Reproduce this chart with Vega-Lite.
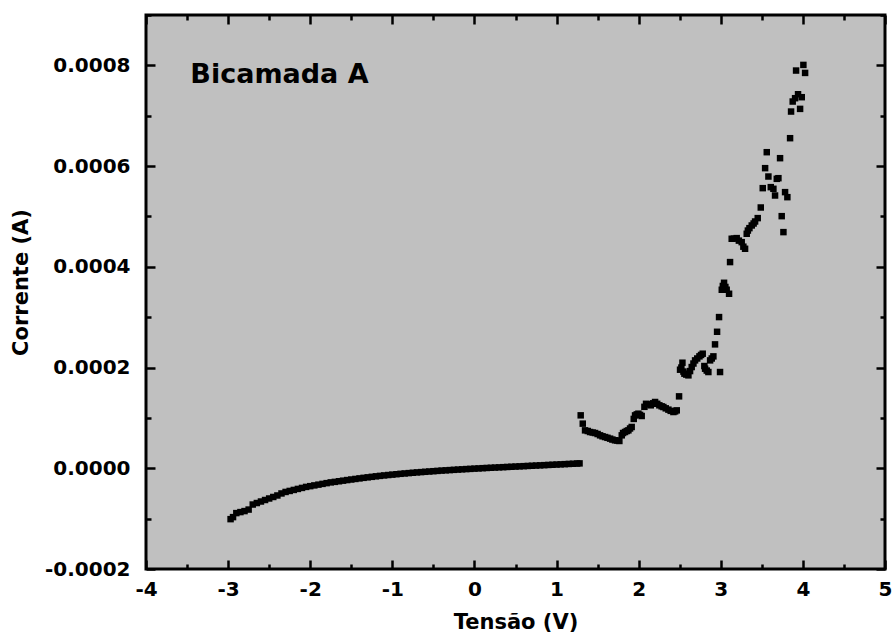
{
  "$schema": "https://vega.github.io/schema/vega-lite/v6.json",
  "width": 739,
  "height": 554,
  "autosize": "none",
  "padding": {"left": 146, "top": 15, "right": 11, "bottom": 68},
  "background": "white",
  "config": {
    "view": {"fill": "#c0c0c0", "stroke": "black", "strokeWidth": 3},
    "font": "DejaVu Sans"
  },
  "datasets": {
    "pts": [
      {"V": -2.97, "I": -0.000101}, {"V": -2.94, "I": -0.000097}, {"V": -2.90, "I": -0.000089}, {"V": -2.85, "I": -0.000087},
      {"V": -2.80, "I": -0.000085}, {"V": -2.75, "I": -0.000082}, {"V": -2.70, "I": -0.000072}, {"V": -2.65, "I": -0.000069},
      {"V": -2.60, "I": -0.000066}, {"V": -2.55, "I": -0.000063}, {"V": -2.50, "I": -0.000060}, {"V": -2.45, "I": -0.000057},
      {"V": -2.40, "I": -0.000054}, {"V": -2.35, "I": -0.000050}, {"V": -2.30, "I": -0.000047}, {"V": -2.25, "I": -0.000045},
      {"V": -2.20, "I": -0.000043}, {"V": -2.15, "I": -0.000041}, {"V": -2.10, "I": -0.000039}, {"V": -2.05, "I": -0.000037},
      {"V": -2.00, "I": -0.0000355}, {"V": -1.95, "I": -0.000034}, {"V": -1.90, "I": -0.0000325}, {"V": -1.85, "I": -0.000031},
      {"V": -1.80, "I": -0.0000295}, {"V": -1.75, "I": -0.000028}, {"V": -1.70, "I": -0.000027}, {"V": -1.65, "I": -0.0000258},
      {"V": -1.60, "I": -0.0000246}, {"V": -1.55, "I": -0.0000234}, {"V": -1.50, "I": -0.0000223}, {"V": -1.45, "I": -0.0000212},
      {"V": -1.40, "I": -0.0000201}, {"V": -1.35, "I": -0.000019}, {"V": -1.30, "I": -0.000018}, {"V": -1.25, "I": -0.000017},
      {"V": -1.20, "I": -0.000016}, {"V": -1.15, "I": -0.0000151}, {"V": -1.10, "I": -0.0000142}, {"V": -1.05, "I": -0.0000134},
      {"V": -1.00, "I": -0.0000126}, {"V": -0.95, "I": -0.0000118}, {"V": -0.90, "I": -0.000011}, {"V": -0.85, "I": -0.0000103},
      {"V": -0.80, "I": -0.0000096}, {"V": -0.75, "I": -0.0000089}, {"V": -0.70, "I": -0.0000082}, {"V": -0.65, "I": -0.0000076},
      {"V": -0.60, "I": -0.000007}, {"V": -0.55, "I": -0.0000064}, {"V": -0.50, "I": -0.0000058}, {"V": -0.45, "I": -0.0000052},
      {"V": -0.40, "I": -0.0000046}, {"V": -0.35, "I": -0.0000041}, {"V": -0.30, "I": -0.0000036}, {"V": -0.25, "I": -0.0000031},
      {"V": -0.20, "I": -0.0000026}, {"V": -0.15, "I": -0.0000021}, {"V": -0.10, "I": -0.0000016}, {"V": -0.05, "I": -0.0000012},
      {"V": 0.00, "I": -0.0000007}, {"V": 0.05, "I": -0.0000003}, {"V": 0.10, "I": 0.0000002}, {"V": 0.15, "I": 0.0000006},
      {"V": 0.20, "I": 0.000001}, {"V": 0.25, "I": 0.0000014}, {"V": 0.30, "I": 0.0000018}, {"V": 0.35, "I": 0.0000022},
      {"V": 0.40, "I": 0.0000026}, {"V": 0.45, "I": 0.000003}, {"V": 0.50, "I": 0.0000034}, {"V": 0.55, "I": 0.0000038},
      {"V": 0.60, "I": 0.0000042}, {"V": 0.65, "I": 0.0000046}, {"V": 0.70, "I": 0.000005}, {"V": 0.75, "I": 0.0000054},
      {"V": 0.80, "I": 0.0000058}, {"V": 0.85, "I": 0.0000062}, {"V": 0.90, "I": 0.0000066}, {"V": 0.95, "I": 0.000007},
      {"V": 1.00, "I": 0.0000074}, {"V": 1.05, "I": 0.0000078}, {"V": 1.10, "I": 0.0000082}, {"V": 1.15, "I": 0.0000086},
      {"V": 1.20, "I": 0.000009}, {"V": 1.25, "I": 0.0000094}, {"V": 1.28, "I": 0.0000097},
      {"V": 1.294, "I": 0.0001051}, {"V": 1.319, "I": 0.0000886}, {"V": 1.347, "I": 0.0000753}, {"V": 1.38, "I": 0.000074},
      {"V": 1.408, "I": 0.000072}, {"V": 1.44, "I": 0.000071}, {"V": 1.469, "I": 0.00007}, {"V": 1.50, "I": 0.000068},
      {"V": 1.530, "I": 0.0000654}, {"V": 1.56, "I": 0.0000635}, {"V": 1.591, "I": 0.000062}, {"V": 1.62, "I": 0.0000605},
      {"V": 1.652, "I": 0.0000588}, {"V": 1.68, "I": 0.000057}, {"V": 1.712, "I": 0.0000555}, {"V": 1.74, "I": 0.000055},
      {"V": 1.765, "I": 0.0000542}, {"V": 1.794, "I": 0.0000654}, {"V": 1.81, "I": 0.00007}, {"V": 1.834, "I": 0.000072},
      {"V": 1.855, "I": 0.000074}, {"V": 1.875, "I": 0.0000753}, {"V": 1.895, "I": 0.000079}, {"V": 1.915, "I": 0.000082},
      {"V": 1.94, "I": 0.000098}, {"V": 1.956, "I": 0.000105}, {"V": 1.977, "I": 0.000107}, {"V": 1.997, "I": 0.0001084},
      {"V": 2.017, "I": 0.000106}, {"V": 2.037, "I": 0.0001038}, {"V": 2.07, "I": 0.000122}, {"V": 2.090, "I": 0.000128},
      {"V": 2.12, "I": 0.000127}, {"V": 2.147, "I": 0.000125}, {"V": 2.175, "I": 0.000129}, {"V": 2.200, "I": 0.0001316},
      {"V": 2.226, "I": 0.000128}, {"V": 2.252, "I": 0.000125}, {"V": 2.28, "I": 0.000123}, {"V": 2.301, "I": 0.0001216},
      {"V": 2.33, "I": 0.000119}, {"V": 2.362, "I": 0.0001164}, {"V": 2.39, "I": 0.000114}, {"V": 2.423, "I": 0.0001117},
      {"V": 2.444, "I": 0.000113}, {"V": 2.464, "I": 0.000115}, {"V": 2.492, "I": 0.0001428}, {"V": 2.504, "I": 0.0001957},
      {"V": 2.52, "I": 0.0002}, {"V": 2.533, "I": 0.0002096}, {"V": 2.545, "I": 0.000192}, {"V": 2.557, "I": 0.0001878},
      {"V": 2.58, "I": 0.000186}, {"V": 2.606, "I": 0.0001845}, {"V": 2.626, "I": 0.000193}, {"V": 2.646, "I": 0.000201},
      {"V": 2.667, "I": 0.000208}, {"V": 2.687, "I": 0.0002142}, {"V": 2.713, "I": 0.000218}, {"V": 2.740, "I": 0.0002222},
      {"V": 2.760, "I": 0.000225}, {"V": 2.780, "I": 0.0002275}, {"V": 2.80, "I": 0.000203}, {"V": 2.809, "I": 0.0001977},
      {"V": 2.829, "I": 0.000194}, {"V": 2.849, "I": 0.0001911}, {"V": 2.870, "I": 0.0002142}, {"V": 2.890, "I": 0.000218},
      {"V": 2.910, "I": 0.0002222}, {"V": 2.930, "I": 0.000246}, {"V": 2.955, "I": 0.000271}, {"V": 2.979, "I": 0.0003002},
      {"V": 2.991, "I": 0.0001911}, {"V": 3.012, "I": 0.0003545}, {"V": 3.025, "I": 0.000362}, {"V": 3.040, "I": 0.0003683},
      {"V": 3.056, "I": 0.00036}, {"V": 3.072, "I": 0.0003545}, {"V": 3.101, "I": 0.0003465}, {"V": 3.113, "I": 0.0004094},
      {"V": 3.133, "I": 0.0004557}, {"V": 3.16, "I": 0.000456}, {"V": 3.194, "I": 0.000457}, {"V": 3.22, "I": 0.000452},
      {"V": 3.255, "I": 0.000449}, {"V": 3.275, "I": 0.00044}, {"V": 3.296, "I": 0.0004358}, {"V": 3.316, "I": 0.0004656},
      {"V": 3.33, "I": 0.000472}, {"V": 3.349, "I": 0.0004768}, {"V": 3.377, "I": 0.0004821}, {"V": 3.40, "I": 0.000486},
      {"V": 3.418, "I": 0.00049}, {"V": 3.450, "I": 0.0004967}, {"V": 3.487, "I": 0.0005178}, {"V": 3.511, "I": 0.0005562},
      {"V": 3.540, "I": 0.0005959}, {"V": 3.560, "I": 0.0006276}, {"V": 3.580, "I": 0.0005793}, {"V": 3.609, "I": 0.0005582},
      {"V": 3.641, "I": 0.0005549}, {"V": 3.661, "I": 0.0005416}, {"V": 3.682, "I": 0.0005747}, {"V": 3.702, "I": 0.000576},
      {"V": 3.722, "I": 0.0006157}, {"V": 3.742, "I": 0.0005006}, {"V": 3.763, "I": 0.0004689}, {"V": 3.783, "I": 0.0005483},
      {"V": 3.811, "I": 0.0005383}, {"V": 3.844, "I": 0.0006554}, {"V": 3.856, "I": 0.0007083}, {"V": 3.876, "I": 0.0007282},
      {"V": 3.905, "I": 0.0007348}, {"V": 3.941, "I": 0.0007427}, {"V": 3.966, "I": 0.0007136}, {"V": 3.986, "I": 0.0007368},
      {"V": 3.917, "I": 0.0007897}, {"V": 4.006, "I": 0.0008009}, {"V": 4.027, "I": 0.000785}
    ],
    "lbl": [{"V": -3.46, "I": 0.00078, "label": "Bicamada A"}]
  },
  "layer": [
    {
      "data": {"name": "pts"},
      "mark": {"type": "square", "size": 42, "color": "black", "opacity": 1, "filled": true},
      "encoding": {
        "x": {
          "field": "V", "type": "quantitative",
          "scale": {"domain": [-4, 5], "nice": false, "zero": false},
          "axis": {
            "orient": "bottom",
            "values": [-4, -3.5, -3, -2.5, -2, -1.5, -1, -0.5, 0, 0.5, 1, 1.5, 2, 2.5, 3, 3.5, 4, 4.5, 5],
            "labelExpr": "datum.value % 1 == 0 ? '' + datum.value : ''",
            "tickSize": {"condition": {"test": "datum.value % 1 != 0", "value": -5}, "value": -9},
            "tickWidth": 2.5, "tickColor": "black", "domain": false, "grid": false,
            "labelFont": "DejaVu Sans", "labelFontWeight": "bold", "labelFontSize": 20, "labelColor": "black",
            "labelPadding": 19, "labelFlush": false, "labelOverlap": false,
            "title": "Tensão (V)", "titleFont": "DejaVu Sans", "titleFontWeight": "bold", "titleFontSize": 21,
            "titleColor": "black", "titlePadding": 8
          }
        },
        "y": {
          "field": "I", "type": "quantitative",
          "scale": {"domain": [-0.0002, 0.0009], "nice": false, "zero": false},
          "axis": {
            "orient": "left",
            "values": [-0.0002, -0.0001, 0, 0.0001, 0.0002, 0.0003, 0.0004, 0.0005, 0.0006, 0.0007, 0.0008, 0.0009],
            "labelExpr": "abs(round(datum.value * 10000)) % 2 == 0 ? replace(format(datum.value, '.4f'), '\u2212', '-') : ''",
            "tickSize": {"condition": {"test": "abs(round(datum.value * 10000)) % 2 == 1", "value": -5}, "value": -9},
            "tickWidth": 2.5, "tickColor": "black", "domain": false, "grid": false,
            "labelFont": "DejaVu Sans", "labelFontWeight": "bold", "labelFontSize": 20, "labelColor": "black",
            "labelPadding": 25, "labelFlush": false, "labelOverlap": false,
            "title": "Corrente (A)", "titleFont": "DejaVu Sans", "titleFontWeight": "bold", "titleFontSize": 21,
            "titleColor": "black", "titlePadding": 13, "titleY": 267
          }
        }
      }
    },
    {
      "data": {"name": "lbl"},
      "mark": {"type": "text", "align": "left", "baseline": "middle", "font": "DejaVu Sans", "fontWeight": "bold", "fontSize": 27, "color": "black"},
      "encoding": {
        "text": {"field": "label"},
        "x": {
          "field": "V", "type": "quantitative",
          "scale": {"domain": [-4, 5], "nice": false, "zero": false},
          "axis": {
            "orient": "top",
            "values": [-4, -3.5, -3, -2.5, -2, -1.5, -1, -0.5, 0, 0.5, 1, 1.5, 2, 2.5, 3, 3.5, 4, 4.5, 5],
            "labels": false, "title": null, "domain": false, "grid": false,
            "tickSize": {"condition": {"test": "datum.value % 1 != 0", "value": -5}, "value": -9},
            "tickWidth": 2.5, "tickColor": "black"
          }
        },
        "y": {
          "field": "I", "type": "quantitative",
          "scale": {"domain": [-0.0002, 0.0009], "nice": false, "zero": false},
          "axis": {
            "orient": "right",
            "values": [-0.0002, -0.0001, 0, 0.0001, 0.0002, 0.0003, 0.0004, 0.0005, 0.0006, 0.0007, 0.0008, 0.0009],
            "labels": false, "title": null, "domain": false, "grid": false,
            "tickSize": {"condition": {"test": "abs(round(datum.value * 10000)) % 2 == 1", "value": -5}, "value": -9},
            "tickWidth": 2.5, "tickColor": "black"
          }
        }
      }
    }
  ],
  "resolve": {"axis": {"x": "independent", "y": "independent"}}
}
